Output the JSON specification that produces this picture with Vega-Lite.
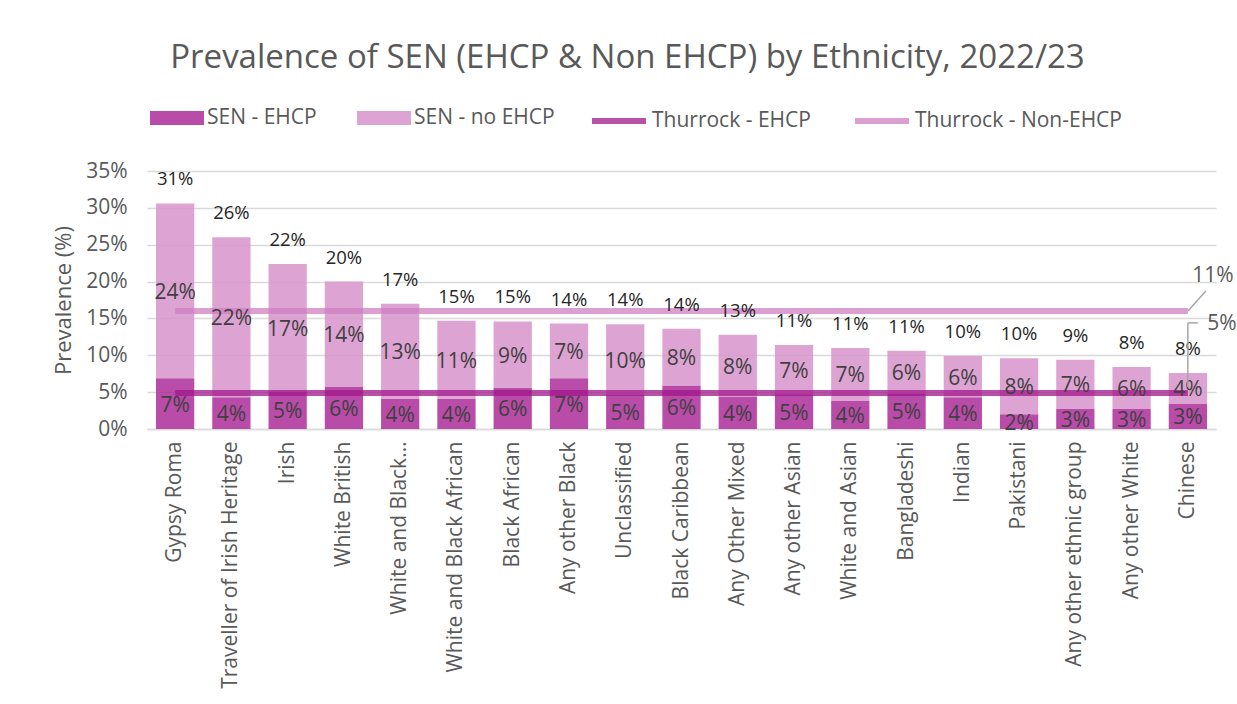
{
  "$schema": "https://vega.github.io/schema/vega-lite/v6.json",
  "width": 1069,
  "height": 258,
  "autosize": "none",
  "padding": {"left": 147, "top": 171, "right": 21, "bottom": 275},
  "background": "white",
  "title": {
    "text": "Prevalence of SEN (EHCP & Non EHCP) by Ethnicity, 2022/23",
    "anchor": "middle",
    "frame": "group",
    "dx": -54,
    "offset": 16,
    "fontSize": 33,
    "font": "Open Sans",
    "fontWeight": "normal",
    "color": "#595959"
  },
  "config": {
    "view": {"stroke": null},
    "font": "Open Sans",
    "text": {"font": "Open Sans"}
  },
  "resolve": {"scale": {"y": "independent"}},
  "datasets": {
    "sen": [
      {"eth": "Gypsy Roma", "ehcp": 0.069, "noehcp": 0.237, "total": 0.306},
      {"eth": "Traveller of Irish Heritage", "ehcp": 0.043, "noehcp": 0.217, "total": 0.260},
      {"eth": "Irish", "ehcp": 0.051, "noehcp": 0.173, "total": 0.224},
      {"eth": "White British", "ehcp": 0.057, "noehcp": 0.143, "total": 0.200},
      {"eth": "White and Black Caribbean", "ehcp": 0.041, "noehcp": 0.129, "total": 0.170},
      {"eth": "White and Black African", "ehcp": 0.041, "noehcp": 0.106, "total": 0.147},
      {"eth": "Black African", "ehcp": 0.056, "noehcp": 0.090, "total": 0.146},
      {"eth": "Any other Black", "ehcp": 0.069, "noehcp": 0.074, "total": 0.143},
      {"eth": "Unclassified", "ehcp": 0.046, "noehcp": 0.096, "total": 0.142},
      {"eth": "Black Caribbean", "ehcp": 0.059, "noehcp": 0.077, "total": 0.136},
      {"eth": "Any Other Mixed", "ehcp": 0.044, "noehcp": 0.084, "total": 0.128},
      {"eth": "Any other Asian", "ehcp": 0.047, "noehcp": 0.067, "total": 0.114},
      {"eth": "White and Asian", "ehcp": 0.038, "noehcp": 0.072, "total": 0.110},
      {"eth": "Bangladeshi", "ehcp": 0.048, "noehcp": 0.058, "total": 0.106},
      {"eth": "Indian", "ehcp": 0.043, "noehcp": 0.056, "total": 0.099},
      {"eth": "Pakistani", "ehcp": 0.020, "noehcp": 0.076, "total": 0.096},
      {"eth": "Any other ethnic group", "ehcp": 0.027, "noehcp": 0.067, "total": 0.094},
      {"eth": "Any other White", "ehcp": 0.027, "noehcp": 0.057, "total": 0.084},
      {"eth": "Chinese", "ehcp": 0.034, "noehcp": 0.042, "total": 0.076}
    ],
    "thurrock": [
      {"eth": "Gypsy Roma", "series": "Thurrock - EHCP", "level": 0.049},
      {"eth": "Chinese", "series": "Thurrock - EHCP", "level": 0.049},
      {"eth": "Gypsy Roma", "series": "Thurrock - Non-EHCP", "level": 0.160},
      {"eth": "Chinese", "series": "Thurrock - Non-EHCP", "level": 0.160}
    ],
    "thurrockLabels": [
      {"eth": "Chinese", "series": "Thurrock - Non-EHCP", "level": 0.160, "value": 0.111},
      {"eth": "Chinese", "series": "Thurrock - EHCP", "level": 0.049, "value": 0.049}
    ]
  },
  "encoding": {
    "x": {
      "field": "eth",
      "type": "nominal",
      "sort": null,
      "scale": {
        "domain": ["Gypsy Roma", "Traveller of Irish Heritage", "Irish", "White British", "White and Black Caribbean", "White and Black African", "Black African", "Any other Black", "Unclassified", "Black Caribbean", "Any Other Mixed", "Any other Asian", "White and Asian", "Bangladeshi", "Indian", "Pakistani", "Any other ethnic group", "Any other White", "Chinese"],
        "paddingInner": 0.32,
        "paddingOuter": 0.16
      },
      "axis": {
        "title": null,
        "labelAngle": -90,
        "labelFontSize": 21,
        "labelColor": "#595959",
        "labelPadding": 12,
        "labelLimit": 0,
        "ticks": false,
        "domainColor": "#D9D9D9",
        "domainWidth": 1.5,
        "labelExpr": "datum.label == 'White and Black Caribbean' ? 'White and Black…' : datum.label"
      }
    }
  },
  "layer": [
    {
      "data": {"name": "sen"},
      "mark": {"type": "bar", "opacity": 0.85},
      "encoding": {
        "y": {
          "field": "ehcp",
          "type": "quantitative",
          "scale": {"domain": [0, 0.35], "nice": false},
          "axis": {
            "values": [0, 0.05, 0.1, 0.15, 0.2, 0.25, 0.3, 0.35],
            "format": ".0%",
            "labelOverlap": false,
            "title": "Prevalence (%)",
            "titleFontSize": 22,
            "titleColor": "#595959",
            "titleFontWeight": "normal",
            "titlePadding": 10,
            "labelFontSize": 21,
            "labelColor": "#595959",
            "labelPadding": 20,
            "domain": false,
            "ticks": false,
            "gridColor": "#D9D9D9",
            "gridWidth": 1.5
          }
        },
        "color": {
          "datum": "SEN - EHCP",
          "type": "nominal",
          "scale": {"domain": ["SEN - EHCP", "SEN - no EHCP"], "range": ["#AD2C9A", "#D794CB"]},
          "legend": {
            "orient": "none",
            "legendX": 3,
            "legendY": -80,
            "direction": "horizontal",
            "title": null,
            "symbolType": "M-1,-0.26L1,-0.26L1,0.26L-1,0.26Z",
            "symbolSize": 2916,
            "symbolStrokeWidth": 0,
            "labelFontSize": 21,
            "labelColor": "#595959",
            "labelOffset": 3,
            "labelLimit": 0,
            "columnPadding": 40
          }
        }
      }
    },
    {
      "data": {"name": "sen"},
      "mark": {"type": "bar", "opacity": 0.85},
      "encoding": {
        "y": {"field": "total", "type": "quantitative", "scale": {"domain": [0, 0.35], "nice": false}, "axis": null},
        "y2": {"field": "ehcp"},
        "color": {"datum": "SEN - no EHCP", "type": "nominal"}
      }
    },
    {
      "data": {"name": "thurrock"},
      "mark": {"type": "line", "strokeWidth": 6, "opacity": 0.75, "strokeCap": "butt"},
      "encoding": {
        "y": {"field": "level", "type": "quantitative", "scale": {"domain": [0, 0.35], "nice": false}, "axis": null},
        "stroke": {
          "field": "series",
          "type": "nominal",
          "scale": {"domain": ["Thurrock - EHCP", "Thurrock - Non-EHCP"], "range": ["#A0178A", "#CF7FC2"]},
          "legend": {
            "orient": "none",
            "legendX": 442,
            "legendY": -80,
            "direction": "horizontal",
            "title": null,
            "symbolType": "M-1,0L1,0",
            "symbolSize": 2916,
            "symbolStrokeWidth": 6,
            "labelFontSize": 21,
            "labelColor": "#595959",
            "labelOffset": 3,
            "labelLimit": 0,
            "columnPadding": 32
          }
        }
      }
    },
    {
      "data": {"name": "sen"},
      "transform": [{"fold": ["ehcp", "total"], "as": ["part", "amount"]}],
      "mark": {"type": "text", "fontSize": 21, "color": "#404040", "baseline": "middle", "dy": 2},
      "encoding": {
        "y": {"field": "amount", "type": "quantitative", "stack": "zero", "scale": {"domain": [0, 0.7], "nice": false}, "axis": null},
        "detail": {"field": "part", "type": "nominal"},
        "order": {"field": "part", "sort": "ascending"},
        "text": {
          "condition": {"test": "datum.part == 'ehcp'", "field": "ehcp", "type": "quantitative", "format": ".0%"},
          "field": "noehcp",
          "type": "quantitative",
          "format": ".0%"
        }
      }
    },
    {
      "data": {"name": "sen"},
      "mark": {"type": "text", "fontSize": 18.5, "color": "#262626", "baseline": "middle", "dy": -24},
      "encoding": {
        "y": {"field": "total", "type": "quantitative", "scale": {"domain": [0, 0.35], "nice": false}, "axis": null},
        "text": {"field": "total", "type": "quantitative", "format": ".0%"}
      }
    },
    {
      "data": {"name": "thurrockLabels"},
      "transform": [{"filter": "datum.series == 'Thurrock - Non-EHCP'"}],
      "mark": {"type": "rule", "color": "#A6A6A6", "strokeWidth": 1.5, "x2Offset": 18, "y2Offset": -20},
      "encoding": {
        "y": {"field": "level", "type": "quantitative", "scale": {"domain": [0, 0.35], "nice": false}, "axis": null},
        "x2": {"field": "eth"},
        "y2": {"field": "level"}
      }
    },
    {
      "data": {"name": "thurrockLabels"},
      "transform": [{"filter": "datum.series == 'Thurrock - EHCP'"}],
      "mark": {"type": "rule", "color": "#A6A6A6", "strokeWidth": 1.5, "yOffset": -6, "y2Offset": -70},
      "encoding": {
        "y": {"field": "level", "type": "quantitative", "scale": {"domain": [0, 0.35], "nice": false}, "axis": null},
        "y2": {"field": "level"}
      }
    },
    {
      "data": {"name": "thurrockLabels"},
      "transform": [{"filter": "datum.series == 'Thurrock - EHCP'"}],
      "mark": {"type": "rule", "color": "#A6A6A6", "strokeWidth": 1.5, "x2Offset": 10, "yOffset": -70, "y2Offset": -70},
      "encoding": {
        "y": {"field": "level", "type": "quantitative", "scale": {"domain": [0, 0.35], "nice": false}, "axis": null},
        "x2": {"field": "eth"},
        "y2": {"field": "level"}
      }
    },
    {
      "data": {"name": "thurrockLabels"},
      "transform": [{"filter": "datum.series == 'Thurrock - Non-EHCP'"}],
      "mark": {"type": "text", "fontSize": 21, "color": "#595959", "baseline": "middle", "dx": 25, "dy": -35},
      "encoding": {
        "y": {"field": "level", "type": "quantitative", "scale": {"domain": [0, 0.35], "nice": false}, "axis": null},
        "text": {"field": "value", "type": "quantitative", "format": ".0%"}
      }
    },
    {
      "data": {"name": "thurrockLabels"},
      "transform": [{"filter": "datum.series == 'Thurrock - EHCP'"}],
      "mark": {"type": "text", "fontSize": 21, "color": "#595959", "baseline": "middle", "dx": 34, "dy": -69},
      "encoding": {
        "y": {"field": "level", "type": "quantitative", "scale": {"domain": [0, 0.35], "nice": false}, "axis": null},
        "text": {"field": "value", "type": "quantitative", "format": ".0%"}
      }
    }
  ]
}
